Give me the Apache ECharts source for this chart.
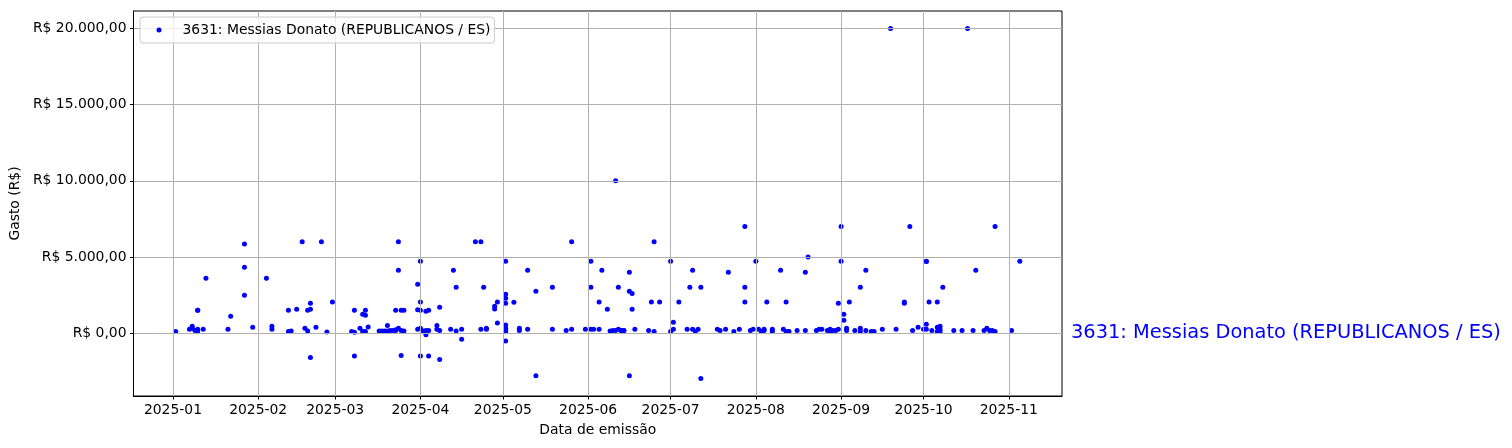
<!DOCTYPE html>
<html><head><meta charset="utf-8">
<script src="https://cdn.jsdelivr.net/npm/echarts@6/dist/echarts.min.js"></script>
<style>html,body{margin:0;padding:0;background:#fff}#c{width:1512px;height:448px}</style>
</head><body><div id="c"></div>
<script>
const seriesName = '3631: Messias Donato (REPUBLICANOS / ES)';
const xAxisTitle = 'Data de emissão';
const yAxisTitle = 'Gasto (R$)';
const monthTicks = ['2025-01-01','2025-02-01','2025-03-01','2025-04-01','2025-05-01','2025-06-01','2025-07-01','2025-08-01','2025-09-01','2025-10-01','2025-11-01'];
const yTicks = [0, 5000, 10000, 15000, 20000];

const dates = [
 '2025-01-02','2025-01-07','2025-01-08','2025-01-08','2025-01-09','2025-01-10','2025-01-10','2025-01-10','2025-01-10','2025-01-12','2025-01-13','2025-01-21','2025-01-22','2025-01-27','2025-01-27','2025-01-27','2025-01-30',
 '2025-02-04','2025-02-06','2025-02-06','2025-02-12','2025-02-12','2025-02-13','2025-02-15','2025-02-17','2025-02-18','2025-02-19','2025-02-19','2025-02-20','2025-02-20','2025-02-20','2025-02-22','2025-02-24','2025-02-26','2025-02-28',
 '2025-03-07','2025-03-08','2025-03-08','2025-03-08','2025-03-10','2025-03-11','2025-03-11','2025-03-12','2025-03-12','2025-03-12','2025-03-13','2025-03-17','2025-03-18','2025-03-19','2025-03-20','2025-03-20','2025-03-21','2025-03-22','2025-03-23','2025-03-23','2025-03-24','2025-03-25','2025-03-26','2025-03-23','2025-03-25','2025-03-26','2025-03-24','2025-03-24','2025-03-25','2025-03-31','2025-03-31','2025-03-31',
 '2025-04-01','2025-04-01','2025-04-01','2025-04-01','2025-04-01','2025-04-02','2025-04-03','2025-04-03','2025-04-03','2025-04-04','2025-04-04','2025-04-04','2025-04-07','2025-04-07','2025-04-08','2025-04-08','2025-04-08','2025-04-12','2025-04-13','2025-04-14','2025-04-14','2025-04-16','2025-04-16','2025-04-21','2025-04-23','2025-04-23','2025-04-24','2025-04-25','2025-04-25','2025-04-28','2025-04-28','2025-04-29','2025-04-29',
 '2025-05-02','2025-05-02','2025-05-02','2025-05-02','2025-05-02','2025-05-02','2025-05-02','2025-05-02','2025-05-02','2025-05-05','2025-05-07','2025-05-07','2025-05-10','2025-05-10','2025-05-13','2025-05-13','2025-05-19','2025-05-19','2025-05-24','2025-05-26','2025-05-26','2025-05-31',
 '2025-06-02','2025-06-02','2025-06-02','2025-06-03','2025-06-05','2025-06-05','2025-06-06','2025-06-08','2025-06-09','2025-06-10','2025-06-11','2025-06-11','2025-06-12','2025-06-12','2025-06-13','2025-06-13','2025-06-14','2025-06-14','2025-06-16','2025-06-16','2025-06-16','2025-06-17','2025-06-17','2025-06-18','2025-06-23','2025-06-24','2025-06-25','2025-06-25','2025-06-27',
 '2025-07-01','2025-07-01','2025-07-02','2025-07-02','2025-07-04','2025-07-07','2025-07-08','2025-07-09','2025-07-09','2025-07-10','2025-07-11','2025-07-12','2025-07-12','2025-07-18','2025-07-19','2025-07-21','2025-07-22','2025-07-24','2025-07-26','2025-07-28','2025-07-28','2025-07-28','2025-07-30','2025-07-31',
 '2025-08-01','2025-08-02','2025-08-03','2025-08-04','2025-08-04','2025-08-05','2025-08-07','2025-08-07','2025-08-10','2025-08-11','2025-08-12','2025-08-12','2025-08-13','2025-08-13','2025-08-16','2025-08-19','2025-08-19','2025-08-20','2025-08-23','2025-08-24','2025-08-25','2025-08-27','2025-08-28','2025-08-28','2025-08-29','2025-08-30','2025-08-31','2025-08-31',
 '2025-09-01','2025-09-01','2025-09-02','2025-09-02','2025-09-03','2025-09-03','2025-09-04','2025-09-06','2025-09-08','2025-09-08','2025-09-08','2025-09-10','2025-09-10','2025-09-12','2025-09-13','2025-09-16','2025-09-19','2025-09-21','2025-09-24','2025-09-24','2025-09-26','2025-09-27','2025-09-29',
 '2025-10-01','2025-10-02','2025-10-02','2025-10-02','2025-10-02','2025-10-03','2025-10-04','2025-10-06','2025-10-06','2025-10-06','2025-10-07','2025-10-07','2025-10-07','2025-10-08','2025-10-12','2025-10-15','2025-10-17','2025-10-19','2025-10-20','2025-10-23','2025-10-24','2025-10-25','2025-10-26','2025-10-27','2025-10-27',
 '2025-11-02','2025-11-05'
];
const amounts = [
 100,245,310,440,175,245,130,1500,1500,245,3600,245,1100,5840,4325,2480,375,
 3600,440,245,100,1500,130,1560,6000,310,130,1500,1560,1960,-1600,375,6000,65,2040,
 100,1500,50,-1500,310,1230,100,1500,1170,100,400,130,130,130,500,130,175,175,175,220,310,175,130,1500,1500,1500,6000,4130,-1470,3200,1530,245,
 4720,2040,1500,310,-1500,130,1430,-110,175,1500,175,-1500,500,245,1700,175,-1730,245,4130,3000,130,-415,245,6000,6000,245,3000,310,245,1760,1580,2040,660,
 4720,2550,2290,1960,530,310,175,85,-530,2020,310,175,245,4130,2750,-2800,3000,245,175,6000,245,245,
 245,4720,3000,245,245,2040,4130,1560,130,175,175,10000,245,3000,175,175,175,175,4000,2750,-2800,2600,1560,245,175,2040,6000,100,2040,
 4720,100,245,705,2040,245,3000,4130,245,100,245,3000,-2985,245,175,245,4000,100,245,7000,3000,2040,175,245,
 4720,245,100,175,245,2040,245,100,4130,245,2040,100,100,100,175,4000,175,5000,175,245,245,175,100,245,175,175,245,1960,
 7000,4720,1230,836,310,175,2040,175,3000,310,100,4130,175,100,100,245,20000,245,2040,1960,7000,175,375,
 245,4720,4700,245,570,2040,175,375,100,2040,440,245,100,3000,175,175,20000,175,4130,175,310,175,175,100,7000,
 175,4720
];

function ts(s){const p=s.split('-').map(Number);return new Date(p[0],p[1]-1,p[2]).getTime();}
const points = dates.map((d,i)=>[ts(d), amounts[i]]);
const xs = points.map(p=>p[0]), ys = amounts;
const xMinD = Math.min(...xs), xMaxD = Math.max(...xs);
const yMinD = Math.min(...ys), yMaxD = Math.max(...ys);
const xPad = (xMaxD-xMinD)*0.05, yPad = (yMaxD-yMinD)*0.05;
const xTickVals = monthTicks.map(ts);
const font = 'DejaVu Sans';
function brl(v){return 'R$ ' + String(Math.abs(v)).replace(/\B(?=(\d{3})+(?!\d))/g,'.') + ',00';}
function ym(v){const d=new Date(v);return d.getFullYear()+'-'+String(d.getMonth()+1).padStart(2,'0');}

const chart = echarts.init(document.getElementById('c'), null, {renderer:'canvas'});
chart.setOption({
  animation:false,
  backgroundColor:'#ffffff',
  textStyle:{fontFamily:font},
  grid:{left:132,top:11,right:450,bottom:52,show:true,borderColor:'#000',borderWidth:1,backgroundColor:'transparent'},
  legend:{
    left:140,top:17,orient:'vertical',
    padding:[6,4,6,16.5],
    itemWidth:37,itemHeight:5,
    borderColor:'#cccccc',borderWidth:1,borderRadius:3,backgroundColor:'rgba(255,255,255,0.8)',
    textStyle:{fontFamily:font,fontSize:13.9,color:'#000'},
    data:[{name:seriesName,icon:'circle'}]
  },
  xAxis:{
    type:'value',min:xMinD-xPad,max:xMaxD+xPad,z:3,scale:true,
    name:xAxisTitle,nameLocation:'middle',nameGap:27,
    nameTextStyle:{fontFamily:font,fontSize:13.9,color:'#000'},
    axisLine:{onZero:false,lineStyle:{color:'#000',width:1}},
    axisTick:{show:true,length:3.5,lineStyle:{color:'#000'},customValues:xTickVals},
    axisLabel:{fontFamily:font,fontSize:13.9,color:'#000',margin:7,customValues:xTickVals,formatter:v=>ym(v),hideOverlap:false},
    splitLine:{show:true,lineStyle:{color:'#b0b0b0',width:1}}
  },
  yAxis:{
    type:'value',min:yMinD-yPad,max:yMaxD+yPad,z:3,
    name:yAxisTitle,nameLocation:'middle',nameGap:108,
    nameTextStyle:{fontFamily:font,fontSize:13.9,color:'#000'},
    axisLine:{show:true,onZero:false,lineStyle:{color:'#000',width:1}},
    axisTick:{show:true,length:3.5,lineStyle:{color:'#000'},customValues:yTicks},
    axisLabel:{fontFamily:font,fontSize:13.9,color:'#000',margin:7,customValues:yTicks,formatter:v=>brl(v)},
    splitLine:{show:true,lineStyle:{color:'#b0b0b0',width:1}}
  },
  series:[{
    name:seriesName,type:'scatter',symbol:'circle',symbolSize:5,z:2,
    itemStyle:{color:'#0000ff',opacity:1},
    data:points
  }],
  graphic:[{
    type:'text',left:1071,top:323,
    style:{text:seriesName,fill:'#0000ff',fontFamily:font,fontSize:19.4}
  }]
});
</script>
</body></html>
